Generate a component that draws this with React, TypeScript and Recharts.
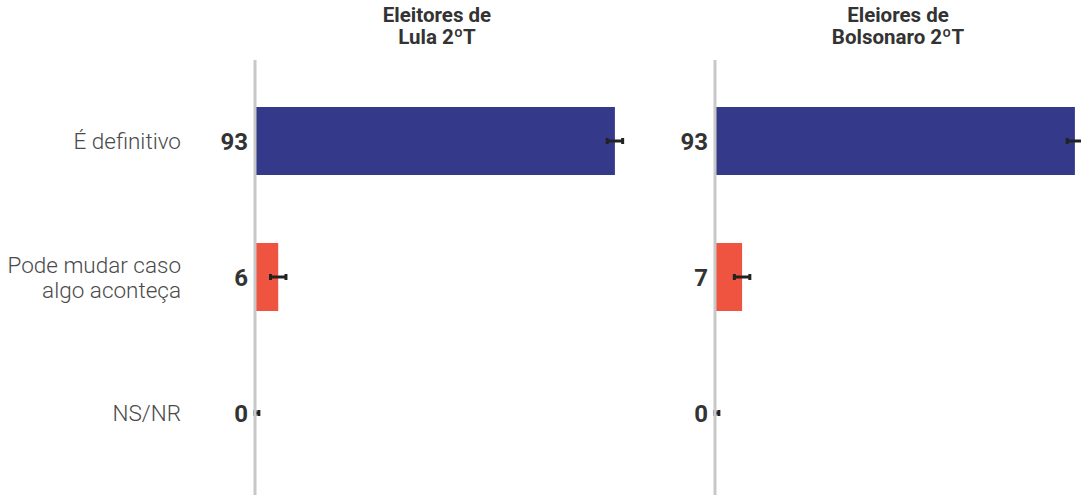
import { BarChart, Bar, XAxis, YAxis, Cell, LabelList, ErrorBar } from 'recharts';

const categories = ['É definitivo', 'Pode mudar caso\nalgo aconteça', 'NS/NR'];
const lulaValues = [93, 6, 0];
const bolsonaroValues = [93, 7, 0];
const lulaErrors: [number, number][] = [[2, 2], [2, 2], [0, 1]];
const bolsonaroErrors: [number, number][] = [[2, 2], [2, 2], [0, 1]];
const barColors = ['#343a89', '#ef5440', '#c8c8c8'];
const panelTitles = [['Eleitores de', 'Lula 2ºT'], ['Eleiores de', 'Bolsonaro 2ºT']];

const FONT = 'Roboto, "Noto Sans", sans-serif';

const CategoryTick = ({ x, y, payload }: any) => {
  const lines = String(payload.value).split('\n');
  const lh = 25;
  const start = -((lines.length - 1) * lh) / 2;
  return (
    <text x={x} y={y} textAnchor="end" fill="#4a4a4a" fontSize={22.5} fontWeight={300} fontFamily={FONT}>
      {lines.map((l, i) => (
        <tspan key={i} x={x} dy={i === 0 ? start + 8 : lh}>{l}</tspan>
      ))}
    </text>
  );
};

function Panel({ values, errors, width, axisWidth, showCategories }: {
  values: number[];
  errors: [number, number][];
  width: number;
  axisWidth: number;
  showCategories: boolean;
}) {
  const data = categories.map((c, i) => ({ name: c, value: values[i], err: errors[i] }));
  return (
    <BarChart
      width={width}
      height={495}
      data={data}
      layout="vertical"
      margin={{ top: 60, right: width - axisWidth - 387, bottom: 0, left: 0 }}
    >
      <XAxis type="number" domain={[0, 100]} hide />
      <YAxis
        type="category"
        dataKey="name"
        width={axisWidth}
        padding={{ top: 13, bottom: 14 }}
        axisLine={{ stroke: '#c8c8c8', strokeWidth: 3 }}
        tickLine={false}
        tickSize={0}
        tickMargin={74}
        tick={showCategories ? <CategoryTick /> : false}
        interval={0}
      />
      <Bar dataKey="value" barSize={68} minPointSize={1} isAnimationActive={false}>
        {data.map((_, i) => (
          <Cell key={i} fill={barColors[i]} />
        ))}
        <LabelList
          dataKey="value"
          position="left"
          offset={7}
          fill="#333"
          fontSize={24}
          fontWeight={700}
          fontFamily={FONT}
        />
        <ErrorBar dataKey="err" direction="x" width={3} strokeWidth={3} stroke="#222" />
      </Bar>
    </BarChart>
  );
}

export default function App() {
  return (
    <div style={{ position: 'absolute', top: 0, left: 0, width: 1081, height: 495, overflow: 'hidden', background: '#fff', fontFamily: FONT }}>
      {panelTitles.map((t, i) => (
        <div
          key={i}
          style={{
            position: 'absolute',
            top: 4,
            left: (i === 0 ? 437 : 898) - 150,
            width: 300,
            textAlign: 'center',
            fontSize: 20.5,
            fontWeight: 700,
            lineHeight: '22px',
            color: '#333',
          }}
        >
          {t[0]}<br />{t[1]}
        </div>
      ))}
      <div style={{ position: 'absolute', top: 0, left: 0 }}>
        <Panel values={lulaValues} errors={lulaErrors} width={660} axisWidth={255} showCategories />
      </div>
      <div style={{ position: 'absolute', top: 0, left: 660 }}>
        <Panel values={bolsonaroValues} errors={bolsonaroErrors} width={452} axisWidth={55} showCategories={false} />
      </div>
    </div>
  );
}
